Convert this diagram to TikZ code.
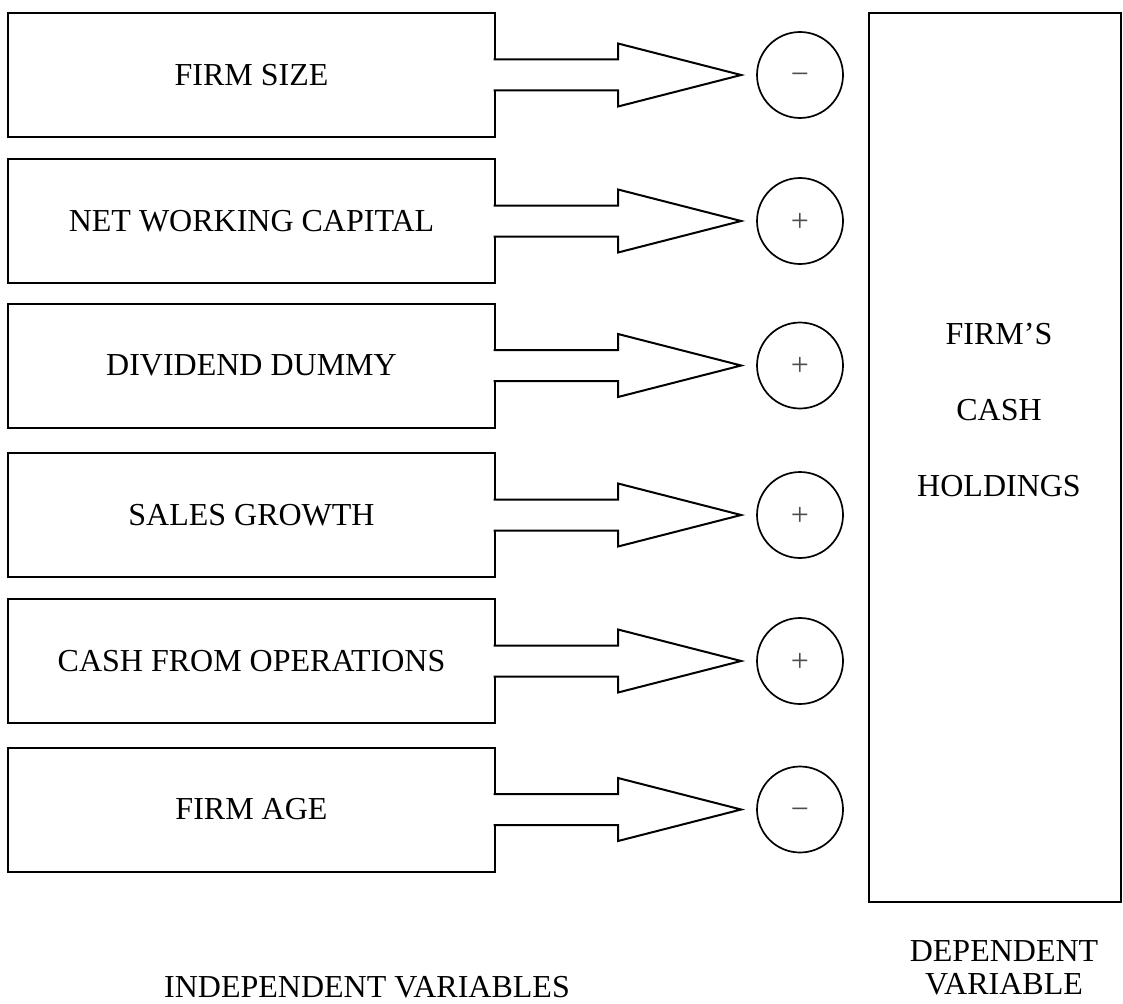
\documentclass[tikz,border=0pt]{standalone}
\usepackage{fontspec}
\setmainfont{Liberation Serif}
\usetikzlibrary{calc}

\tikzset{
  varbox/.style={draw, line width=2pt, rectangle, minimum width=487pt,
    minimum height=124pt, inner sep=0pt, font=\fontsize{32}{38}\selectfont},
  signnode/.style={draw, line width=1.7pt, circle, minimum size=86pt,
    inner sep=0pt, text height=20pt, text depth=0pt, text=black!70,
    font=\fontsize{32}{38}\selectfont},
  blockarrow/.style={draw, line width=2pt, fill=white, line join=miter},
  label/.style={font=\fontsize{32}{38}\selectfont, inner sep=0pt, anchor=base},
  depbox/.style={draw, line width=2pt, rectangle, inner sep=0pt}
}

\begin{document}
\begin{tikzpicture}[x=1pt, y=-1pt]
  \path[use as bounding box] (0,0) rectangle (1123,1003);
  \clip (0,0) rectangle (1123,1003);
  \fill[white] (0,0) rectangle (1123,1003);

  % dependent variable box
  \node[depbox, minimum width=252pt, minimum height=889pt] (dep) at (995,457.5) {};
  \node[label] (t1) at (999,344) {FIRM’S};
  \node[label] (t2) at (999,420) {CASH};
  \node[label] (t3) at (999,496) {HOLDINGS};

  % independent variables, their block arrows and signs
  \foreach \i/\y/\lab/\sg in {
      1/75/FIRM SIZE/−,
      2/221/NET WORKING CAPITAL/+,
      3/365.5/DIVIDEND DUMMY/+,
      4/515/SALES GROWTH/+,
      5/661/CASH FROM OPERATIONS/+,
      6/809.5/FIRM AGE/−} {
    \node[varbox] (v\i) at (251.5,\y) {\lab};
    \node[signnode] (c\i) at (800,\y) {\sg};
    % the arrow body starts just inside the box, so its fill hides the box edge
    \draw[blockarrow]
      ($(v\i.east)+(-2.5,-15.5)$) -- ++(124.5,0) -- ++(0,-16)
      -- ($(c\i.west)+(-15,0)$)
      -- ($(v\i.east)+(122,31.5)$) -- ++(0,-16)
      -- ($(v\i.east)+(-2.5,15.5)$);
  }

  % captions
  \node[label] (ind) at (367,997) {INDEPENDENT VARIABLES};
  \node[label] (d1) at (1004,961) {DEPENDENT};
  \node[label] (d2) at (1004,994) {VARIABLE};
\end{tikzpicture}
\end{document}
